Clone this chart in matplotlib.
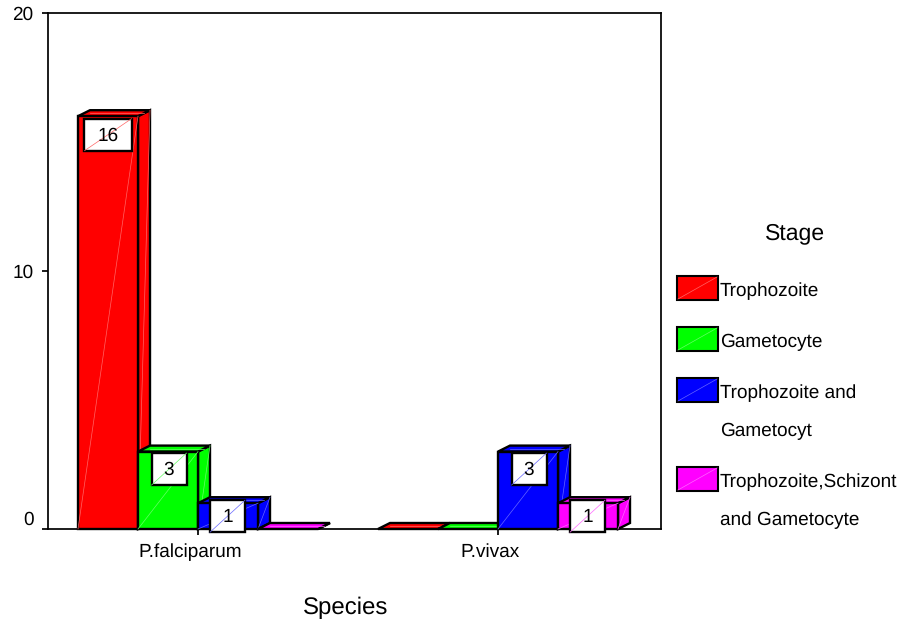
import matplotlib
matplotlib.use("Agg")
import matplotlib.pyplot as plt
from matplotlib.patches import Polygon, Rectangle
from matplotlib.transforms import ScaledTranslation

plt.rcParams['font.family'] = ['Liberation Sans', 'DejaVu Sans']
plt.rcParams['text.hinting'] = 'no_hinting'
plt.rcParams['text.hinting_factor'] = 1

species = ["P.falciparum", "P.vivax"]
stages = ["Trophozoite", "Gametocyte", "Trophozoite and\nGametocyt", "Trophozoite,Schizont\nand Gametocyte"]
trophozoite = [16, 0]
gametocyte = [3, 0]
troph_gamet = [1, 3]
troph_schiz_gamet = [0, 1]
series = [trophozoite, gametocyte, troph_gamet, troph_schiz_gamet]
colors = ["#ff0000", "#00ff00", "#0000ff", "#ff00ff"]
y_ticks = [0, 10, 20]

W, H = 899, 621
PX_X = 300.0      # pixels per x unit
PX_Y = 25.8       # pixels per y unit
BAR_W = 0.2
DX = 12 / PX_X
DY = 6 / PX_Y
EDGE = 1.7
FS = 13.4

fig = plt.figure(figsize=(W / 100, H / 100), dpi=100, facecolor="white")
ax = fig.add_axes([48 / W, 1 - 529 / H, (661 - 48) / W, (529 - 13) / H])
ax.set_xlim((48 - 198) / PX_X, (661 - 198) / PX_X)
ax.set_ylim(0, 20)


def lighter(c):
    r, g, b = matplotlib.colors.to_rgb(c)
    return (r + (1 - r) * .4, g + (1 - g) * .4, b + (1 - b) * .4)


def diag(x0, y0, x1, y1, c, z):
    ax.plot([x0, x1], [y0, y1], color=c, lw=0.5, zorder=z, clip_on=False)


z = 3
for g in range(len(species)):
    for s, vals in enumerate(series):
        v = vals[g]
        x0 = g + (s - 2) * BAR_W
        x1 = x0 + BAR_W
        ec = dict(edgecolor="black", linewidth=EDGE, joinstyle="miter", clip_on=False)
        c = colors[s]
        ax.add_patch(Polygon([(x1, 0), (x1 + DX, DY), (x1 + DX, v + DY), (x1, v)],
                             facecolor=c, zorder=z, **ec))
        ax.add_patch(Polygon([(x0, v), (x0 + DX, v + DY), (x1 + DX, v + DY), (x1, v)],
                             facecolor=c, zorder=z, **ec))
        diag(x0 + DX, v + DY / 2, x1 + DX / 2, v + DY / 2, lighter(c), z + .1)
        if v > 0:
            ax.bar(x0, v, BAR_W, align="edge", color=c, zorder=z + .2,
                   edgecolor="black", linewidth=EDGE, clip_on=False)
            diag(x0, 0, x1, v, lighter(c), z + .3)
            diag(x1, 0, x1 + DX, v + DY, lighter(c), z + .3)
        z += 1

# value labels: box centre below bar top, box size, per bar (px)
box_w = {16: 47, 3: 35, 1: 35}
box_drop = {16: 18.5, 3: 17.5, 1: 13}
box_shift = {16: 0, 3: 1, 1: -0.5}
for g in range(len(species)):
    for s, vals in enumerate(series):
        v = vals[g]
        if v <= 0:
            continue
        cx = g + (s - 1.5) * BAR_W + box_shift[v] / PX_X
        cy = v - box_drop[v] / PX_Y
        bw = box_w[v] / PX_X
        bh = 32 / PX_Y
        ax.add_patch(Rectangle((cx - bw / 2, cy - bh / 2), bw, bh, facecolor="white",
                               edgecolor="black", linewidth=EDGE, zorder=50, clip_on=False))
        diag(cx - bw / 2, cy - bh / 2, cx + bw / 2, cy + bh / 2, lighter(colors[s]), 51)
        ax.text(cx, cy - 1 / PX_Y, str(v), ha="center", va="center", fontsize=FS, color="black",
                zorder=52, clip_on=False)

for sp in ax.spines.values():
    sp.set_linewidth(1.25)
ax.set_yticks(y_ticks)
ax.set_yticklabels([str(t) for t in y_ticks])
ax.set_xticks(range(len(species)))
ax.set_xticklabels(species)
ax.tick_params(axis="y", length=4, width=1.25, pad=6.5, labelsize=FS)
ax.tick_params(axis="x", length=4, width=1.25, pad=6, labelsize=FS)
ax.get_yticklabels()[0].set_va("bottom")
shift = ScaledTranslation(-8 / 100, 0, fig.dpi_scale_trans)
for lb in ax.get_xticklabels():
    lb.set_transform(lb.get_transform() + shift)


def fx(px):
    return px / W


def fy(py):
    return 1 - py / H


fig.text(fx(345.5), fy(608), "Species", ha="center", va="center", fontsize=17)
fig.text(fx(795), fy(233), "Stage", ha="center", va="center", fontsize=16.8)

swatch_top = [276, 327, 378, 467]
for label, c, top in zip(stages, colors, swatch_top):
    fig.add_artist(Rectangle((fx(677), fy(top + 24)), 41 / W, 24 / H, transform=fig.transFigure,
                             facecolor=c, edgecolor="black", linewidth=1.5))
    fig.add_artist(plt.Line2D([fx(678), fx(717)], [fy(top + 23), fy(top + 1)], color=lighter(c), lw=0.5))
    for k, line in enumerate(label.split("\n")):
        fig.text(fx(720), fy(top + 15 + k * 38), line, ha="left", va="center", fontsize=FS)

fig.savefig("out.png", dpi=100, facecolor="white")
